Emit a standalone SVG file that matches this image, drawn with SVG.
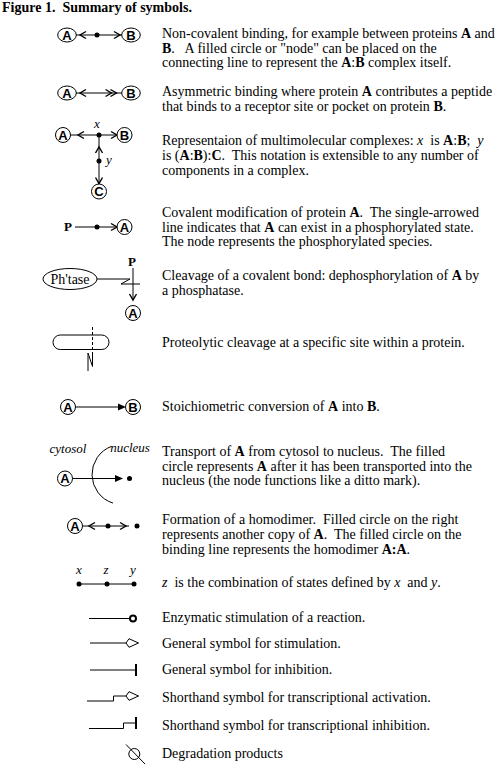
<svg xmlns="http://www.w3.org/2000/svg" width="504" height="764" viewBox="0 0 504 764">
<style>
text{font-family:"Liberation Serif","Times New Roman",serif;font-size:14px;fill:#000;white-space:pre}
.b{font-weight:bold}
.i{font-style:italic}
.nl{font-family:"Liberation Sans",Arial,sans-serif;font-weight:bold;font-size:13px;text-anchor:middle}
.n{fill:#fff;stroke:#000;stroke-width:1}
.ln{fill:none;stroke:#000;stroke-width:1}
.ch{fill:none;stroke:#000;stroke-width:1.4}
.f{fill:#000;stroke:none}
.oa{fill:#fff;stroke:#000;stroke-width:1}
.bar{stroke:#000;stroke-width:2}
.lab{font-style:italic;font-size:13px;text-anchor:middle}
.mid{text-anchor:middle}
</style>
<defs>
<path id="chev" d="M-6,-3.5 L0,0 L-6,3.5" class="ch"/>
<path id="tri" d="M-8,-3.5 L0,0 L-8,3.5 Z" class="f"/>
<circle id="dot" r="2.5" class="f"/>
<path id="oarr" d="M-12.5,0 L-9.5,-4.3 L0,0 L-9.5,4.3 Z" class="oa"/>
</defs>

<text x="2" y="12" class="b">Figure 1.  Summary of symbols.</text>

<g id="r6-protein"><rect x="53" y="335" width="56" height="14.5" rx="7.25" fill="none" stroke="#000"/></g>

<!-- connectors -->
<g id="connectors">
  <!-- row 1 -->
  <line x1="76" y1="35" x2="122" y2="35" class="ln"/>
  <use href="#chev" transform="translate(80,35) scale(-1,1)"/>
  <use href="#chev" transform="translate(120,35)"/>
  <use href="#dot" x="97" y="35"/>
  <!-- row 2 -->
  <line x1="76" y1="93" x2="122" y2="93" class="ln"/>
  <use href="#chev" transform="translate(80,93) scale(-1,1)"/>
  <use href="#chev" transform="translate(111.5,93)"/>
  <use href="#chev" transform="translate(116.5,93)"/>
  <!-- row 3 -->
  <line x1="70" y1="135" x2="117" y2="135" class="ln"/>
  <use href="#chev" transform="translate(78,135) scale(-1,1)"/>
  <use href="#chev" transform="translate(117,135)"/>
  <use href="#dot" x="99" y="135"/>
  <line x1="99" y1="135" x2="99" y2="184" class="ln"/>
  <use href="#chev" transform="translate(99,147) rotate(-90)"/>
  <use href="#dot" x="99" y="161"/>
  <use href="#chev" transform="translate(99,183.5) rotate(90)"/>
  <!-- row 4 -->
  <line x1="75" y1="227" x2="117" y2="227" class="ln"/>
  <use href="#dot" x="97" y="227"/>
  <use href="#chev" transform="translate(117,227)"/>
  <!-- row 5 -->
  <polyline points="97,279 130,279 121,284 140,284" class="ln"/>
  <line x1="133" y1="268" x2="133" y2="300" class="ln"/>
  <use href="#chev" transform="translate(133,300) rotate(90)"/>
  <!-- row 6 -->
  <line x1="92.5" y1="327" x2="92.5" y2="352" class="ln" stroke-dasharray="3,2"/>
  <polyline points="88,371 88,353 92.5,366.5 92.5,352" class="ln"/>
  <!-- row 7 -->
  <line x1="75" y1="407" x2="120" y2="407" class="ln"/>
  <use href="#tri" x="126" y="407"/>
  <!-- row 8 -->
  <path d="M111.7,446.3 A30,30 0 0 0 113,503.1" class="ln"/>
  <line x1="72" y1="478.5" x2="117" y2="478.5" class="ln"/>
  <use href="#tri" x="123" y="478.5"/>
  <use href="#dot" x="129.5" y="478.5"/>
  <!-- row 9 -->
  <line x1="82.5" y1="526" x2="129" y2="526" class="ln"/>
  <use href="#chev" transform="translate(89,526) scale(-1,1)"/>
  <use href="#dot" x="108" y="526"/>
  <use href="#chev" transform="translate(126,526)"/>
  <use href="#dot" x="137" y="526"/>
  <!-- row 10 -->
  <line x1="79" y1="584" x2="134" y2="584" class="ln"/>
  <use href="#dot" x="79" y="584"/>
  <use href="#dot" x="107" y="584"/>
  <use href="#dot" x="134" y="584"/>
  <!-- enzymatic stimulation -->
  <line x1="89" y1="618.5" x2="130" y2="618.5" class="ln"/>
  <circle cx="133" cy="618.5" r="3" fill="#fff" stroke="#000" stroke-width="2"/>
  <!-- general stimulation -->
  <line x1="90" y1="643" x2="126" y2="643" class="ln"/>
  <use href="#oarr" x="138.5" y="643"/>
  <!-- general inhibition -->
  <line x1="90" y1="670" x2="136" y2="670" class="ln"/>
  <line x1="136" y1="664" x2="136" y2="676" class="bar"/>
  <!-- transcriptional activation -->
  <polyline points="87,701 113.5,701 113.5,696 126,696" class="ln"/>
  <use href="#oarr" x="138.5" y="696"/>
  <!-- transcriptional inhibition -->
  <polyline points="89,728.5 123.5,728.5 123.5,723 136,723" class="ln"/>
  <line x1="136" y1="717" x2="136" y2="729" class="bar"/>
  <!-- degradation -->
  <circle cx="134.3" cy="754" r="5.5" class="n"/>
  <line x1="126" y1="744.5" x2="145" y2="764" class="ln"/>
</g>

<!-- nodes -->
<g id="r1-A"><ellipse cx="67" cy="35" rx="9.3" ry="7" class="n"/><text x="67" y="39.6" class="nl">A</text></g>
<g id="r1-B"><ellipse cx="131" cy="35" rx="9.3" ry="7" class="n"/><text x="131" y="39.6" class="nl">B</text></g>
<g id="r2-A"><ellipse cx="67" cy="93" rx="9.3" ry="7" class="n"/><text x="67" y="97.6" class="nl">A</text></g>
<g id="r2-B"><ellipse cx="131" cy="93" rx="9.3" ry="7" class="n"/><text x="131" y="97.6" class="nl">B</text></g>
<g id="r3-A"><circle cx="63" cy="135" r="7.5" class="n"/><text x="63" y="139.6" class="nl">A</text></g>
<g id="r3-B"><circle cx="124.5" cy="135" r="7.5" class="n"/><text x="124.5" y="139.6" class="nl">B</text></g>
<g id="r3-C"><circle cx="99" cy="191.5" r="7.5" class="n"/><text x="99" y="196.1" class="nl">C</text></g>
<g id="r3-labels"><text x="97" y="128" class="lab">x</text><text x="109" y="164" class="lab">y</text></g>
<g id="r4-P"><text x="68" y="231" class="b mid" style="font-size:13px">P</text></g>
<g id="r4-A"><circle cx="124.5" cy="227" r="7.5" class="n"/><text x="124.5" y="231.6" class="nl">A</text></g>
<g id="r5-phtase"><ellipse cx="70" cy="279" rx="27" ry="10.5" class="n"/><text x="70" y="283.5" class="mid">Ph'tase</text></g>
<g id="r5-P"><text x="132" y="266" class="b mid" style="font-size:13px">P</text></g>
<g id="r5-A"><circle cx="133" cy="313" r="7.5" class="n"/><text x="133" y="317.6" class="nl">A</text></g>
<g id="r7-A"><circle cx="68" cy="407" r="7.5" class="n"/><text x="68" y="411.6" class="nl">A</text></g>
<g id="r7-B"><circle cx="133" cy="407" r="7.5" class="n"/><text x="133" y="411.6" class="nl">B</text></g>
<g id="r8-labels"><text x="68" y="453" class="lab">cytosol</text><text x="130" y="452" class="lab">nucleus</text></g>
<g id="r8-A"><circle cx="65" cy="478.5" r="7.5" class="n"/><text x="65" y="483.1" class="nl">A</text></g>
<g id="r9-A"><circle cx="75" cy="526" r="7.5" class="n"/><text x="75" y="530.6" class="nl">A</text></g>
<g id="r10-labels"><text x="79" y="574" class="lab">x</text><text x="106" y="574" class="lab">z</text><text x="133" y="574" class="lab">y</text></g>

<!-- captions -->
<g id="captions">
<text x="162" y="38">Non-covalent binding, for example between proteins <tspan class="b">A</tspan> and</text>
<text x="162" y="52.5"><tspan class="b">B</tspan>.   A filled circle or "node" can be placed on the</text>
<text x="162" y="67">connecting line to represent the <tspan class="b">A</tspan>:<tspan class="b">B</tspan> complex itself.</text>
<text x="162" y="96">Asymmetric binding where protein <tspan class="b">A</tspan> contributes a peptide</text>
<text x="162" y="111">that binds to a receptor site or pocket on protein <tspan class="b">B</tspan>.</text>
<text x="162" y="145">Representaion of multimolecular complexes: <tspan class="i">x</tspan>  is <tspan class="b">A</tspan>:<tspan class="b">B</tspan>;  <tspan class="i">y</tspan></text>
<text x="162" y="160">is (<tspan class="b">A</tspan>:<tspan class="b">B</tspan>):<tspan class="b">C</tspan>.  This notation is extensible to any number of</text>
<text x="162" y="174.5">components in a complex.</text>
<text x="162" y="216.5">Covalent modification of protein <tspan class="b">A</tspan>.  The single-arrowed</text>
<text x="162" y="231.5">line indicates that <tspan class="b">A</tspan> can exist in a phosphorylated state.</text>
<text x="162" y="246">The node represents the phosphorylated species.</text>
<text x="162" y="279.5">Cleavage of a covalent bond: dephosphorylation of <tspan class="b">A</tspan> by</text>
<text x="162" y="295">a phosphatase.</text>
<text x="162" y="346.5">Proteolytic cleavage at a specific site within a protein.</text>
<text x="162" y="411">Stoichiometric conversion of <tspan class="b">A</tspan> into <tspan class="b">B</tspan>.</text>
<text x="162" y="456">Transport of <tspan class="b">A</tspan> from cytosol to nucleus.  The filled</text>
<text x="162" y="470.5">circle represents <tspan class="b">A</tspan> after it has been transported into the</text>
<text x="162" y="485">nucleus (the node functions like a ditto mark).</text>
<text x="162" y="524">Formation of a homodimer.  Filled circle on the right</text>
<text x="162" y="539">represents another copy of <tspan class="b">A</tspan>.  The filled circle on the</text>
<text x="162" y="553.5">binding line represents the homodimer <tspan class="b">A:A</tspan>.</text>
<text x="162" y="587"><tspan class="i">z</tspan>  is the combination of states defined by <tspan class="i">x</tspan>  and <tspan class="i">y</tspan>.</text>
<text x="162" y="621.5">Enzymatic stimulation of a reaction.</text>
<text x="162" y="647.5">General symbol for stimulation.</text>
<text x="162" y="674">General symbol for inhibition.</text>
<text x="162" y="702">Shorthand symbol for transcriptional activation.</text>
<text x="162" y="730">Shorthand symbol for transcriptional inhibition.</text>
<text x="162" y="757.5">Degradation products</text>
</g>
</svg>
